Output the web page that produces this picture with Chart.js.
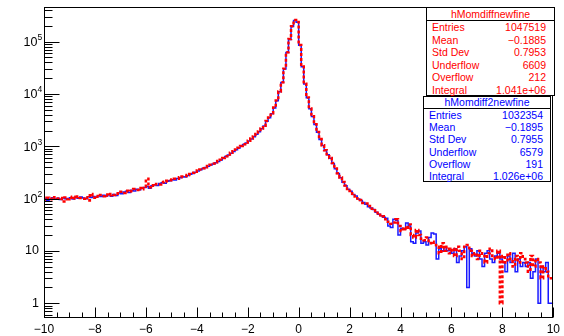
<!DOCTYPE html>
<html>
<head>
<meta charset="utf-8">
<script src="https://cdn.jsdelivr.net/npm/chart.js@4/dist/chart.umd.min.js"></script>
<style>
  html, body { margin: 0; padding: 0; background: #fff; }
  #wrap { position: relative; width: 564px; height: 336px; }
  canvas { display: block; }
  .stats { position: absolute; background: #fff; border: 1px solid #000; box-sizing: border-box;
           font-family: "Liberation Sans", Arial, sans-serif; font-size: 10.5px; }
  .stats .title { text-align: center; border-bottom: 1px solid #000; }
  .stats .row { display: flex; justify-content: space-between; }
  #statsRed { left: 426px; top: 7px; width: 129px; height: 89px; color: #ff0000; }
  #statsRed .title { height: 12px; line-height: 12px; }
  #statsRed .row { height: 12.5px; line-height: 12.5px; padding: 0 8px 0 5px; }
  #statsBlue { left: 423px; top: 96px; width: 128px; height: 86px; color: #0000ff; }
  #statsBlue .title { height: 11px; line-height: 11px; }
  #statsBlue .row { height: 12.2px; line-height: 12.2px; padding: 0 7px 0 5px; }
</style>
</head>
<body>
<div id="wrap">
  <canvas id="chart" width="564" height="336"></canvas>
  <div id="statsRed" class="stats"></div>
  <div id="statsBlue" class="stats"></div>
</div>
<script>
// histogram binning: 200 bins of 0.1 from -10 to 10
const xLow = -10;
const xHigh = 10;
const binWidth = 0.1;

// hMomdiff2newfine (blue), counts per bin
const blueCounts = [
  95, 100, 92, 98, 104, 97, 101, 96, 103, 99,
  100, 104, 98, 106, 101, 107, 103, 99, 108, 105,
  110, 106, 113, 109, 116, 112, 118, 111, 120, 115,
  128, 124, 133, 138, 131, 144, 140, 150, 147, 158,
  162, 170, 158, 176, 184, 178, 194, 200, 196, 214,
  220, 230, 226, 242, 250, 262, 258, 276, 290, 300,
  320, 337, 355, 374, 394, 415, 437, 460, 485, 511,
  545, 588, 634, 684, 738, 796, 859, 926, 1000, 1078,
  1160, 1260, 1380, 1520, 1690, 1900, 2150, 2450, 3000, 3500,
  4200, 5400, 7400, 11000, 16500, 30000, 62000, 110000, 195000, 255000,
  235000, 85000, 33000, 15500, 8500, 5200, 3700, 2600, 1850, 1350,
  1030, 830, 690, 590, 470, 370, 300, 250, 205, 175,
  150, 138, 120, 112, 98, 92, 84, 78, 70, 66,
  62, 55, 50, 47, 44, 42, 30, 28, 40, 38,
  20, 27, 26, 34, 30, 15, 14, 22, 24, 14,
  15, 13, 18, 22, 21, 7, 11, 10, 12, 10,
  10, 9, 11, 6, 8, 10, 12, 2, 11, 9,
  8, 10, 7, 5, 9, 10, 7, 6, 8, 9,
  7, 6, 4, 8, 6, 9, 4, 7, 5, 6,
  5, 6, 3, 4, 7, 1, 5, 4, 6, 1
];

// hMomdiffnewfine (red), counts per bin
const redCounts = [
  100, 96, 104, 99, 97, 106, 100, 102, 88, 105,
  97, 104, 108, 100, 110, 103, 99, 106, 92, 122,
  104, 112, 108, 117, 111, 119, 114, 122, 117, 124,
  126, 135, 128, 141, 136, 139, 152, 145, 160, 150,
  168, 240, 165, 180, 176, 190, 186, 205, 210, 218,
  225, 232, 240, 238, 255, 265, 270, 282, 295, 310,
  326, 342, 360, 380, 398, 420, 445, 468, 492, 520,
  552, 596, 642, 692, 748, 806, 868, 938, 1012, 1090,
  1175, 1275, 1400, 1540, 1710, 1920, 2180, 2480, 3040, 3550,
  4260, 5480, 7500, 11200, 16700, 30500, 63000, 112000, 198000, 259000,
  238000, 86000, 33500, 15700, 8600, 5300, 3750, 2640, 1880, 1370,
  1045, 842, 700, 598, 478, 376, 305, 254, 208, 178,
  152, 140, 124, 110, 100, 94, 82, 80, 72, 64,
  64, 58, 48, 49, 46, 40, 36, 33, 35, 40,
  30, 24, 28, 26, 32, 20, 18, 25, 20, 17,
  16, 18, 14, 15, 13, 12, 9, 14, 10, 12,
  9, 11, 8, 12, 10, 7, 12, 13, 10, 8,
  9, 7, 10, 8, 6, 9, 11, 8, 7, 10,
  1, 8, 6, 9, 7, 5, 8, 6, 9, 7,
  6, 4, 8, 5, 7, 6, 3, 5, 4, 3
];

const xTickValues = [-10, -8, -6, -4, -2, 0, 2, 4, 6, 8, 10];
const yDecades = [0, 1, 2, 3, 4, 5];

const statNames = ["Entries", "Mean", "Std Dev", "Underflow", "Overflow", "Integral"];
const redName = "hMomdiffnewfine";
const redStats = ["1047519", "\u22120.1885", "0.7953", "6609", "212", "1.041e+06"];
const blueName = "hMomdiff2newfine";
const blueStats = ["1032354", "\u22120.1895", "0.7955", "6579", "191", "1.026e+06"];

const FONT = '"Liberation Sans", Arial, sans-serif';

function histPoints(counts) {
  const pts = counts.map((v, i) => ({ x: xLow + i * binWidth, y: v }));
  pts.push({ x: xHigh, y: counts[counts.length - 1] });
  return pts;
}

function fillStats(id, name, values) {
  const box = document.getElementById(id);
  box.innerHTML =
    `<div class="title">${name}</div>` +
    statNames.map((n, i) => `<div class="row"><span>${n}</span><span>${values[i]}</span></div>`).join("");
}

// ROOT style frame, inward ticks and 10^n labels
const rootAxes = {
  id: "rootAxes",
  afterDatasetsDraw(chart) {
    const { ctx, chartArea: a, scales } = chart;
    const sx = scales.x, sy = scales.y;
    const L = Math.round(a.left) + 0.5, R = Math.round(a.right) - 0.5;
    const T = Math.round(a.top) + 0.5, B = Math.round(a.bottom) - 0.5;
    ctx.save();
    ctx.strokeStyle = "#000";
    ctx.lineWidth = 1;
    ctx.strokeRect(L, T, R - L, B - T);

    ctx.beginPath();
    for (let k = 0; k <= 40; k++) {
      const v = xLow + k * 0.5;
      const px = Math.round(sx.getPixelForValue(v)) + 0.5;
      const len = k % 4 === 0 ? 10 : 5;
      ctx.moveTo(px, B);
      ctx.lineTo(px, B - len);
    }
    for (let n = -1; n <= 5; n++) {
      for (let k = 1; k <= 9; k++) {
        const v = k * Math.pow(10, n);
        if (v < sy.min || v > sy.max) continue;
        const py = Math.round(sy.getPixelForValue(v)) + 0.5;
        const len = k === 1 ? 15 : 8;
        ctx.moveTo(L, py);
        ctx.lineTo(L + len, py);
      }
    }
    ctx.stroke();

    ctx.fillStyle = "#000";
    ctx.textBaseline = "middle";
    yDecades.forEach((d) => {
      const py = sy.getPixelForValue(Math.pow(10, d));
      if (d <= 1) {
        ctx.font = "12.5px " + FONT;
        ctx.textAlign = "right";
        ctx.fillText(d === 0 ? "1" : "10", 39, py);
      } else {
        ctx.font = "12.5px " + FONT;
        ctx.textAlign = "right";
        ctx.fillText("10", 37.5, py + 1);
        ctx.font = "8.5px " + FONT;
        ctx.textAlign = "left";
        ctx.fillText(String(d), 37.5, py - 4);
      }
    });
    ctx.restore();
  },
};

fillStats("statsRed", redName, redStats);
fillStats("statsBlue", blueName, blueStats);

new Chart(document.getElementById("chart").getContext("2d"), {
  type: "line",
  data: {
    datasets: [
      {
        label: redName,
        data: histPoints(redCounts),
        stepped: "after",
        borderColor: "#ff0000",
        borderWidth: 2.5,
        borderDash: [3, 2],
        pointRadius: 0,
        fill: false,
        order: 0,
      },
      {
        label: blueName,
        data: histPoints(blueCounts),
        stepped: "after",
        borderColor: "#1a1aff",
        borderWidth: 1.5,
        pointRadius: 0,
        fill: false,
        order: 1,
      },
    ],
  },
  options: {
    responsive: false,
    animation: false,
    layout: { padding: { top: 7, right: 9, left: 0, bottom: 0 } },
    plugins: { legend: { display: false }, tooltip: { enabled: false } },
    scales: {
      x: {
        type: "linear",
        min: xLow,
        max: xHigh,
        grid: { display: false, drawTicks: false },
        border: { display: false },
        ticks: {
          autoSkip: false,
          maxRotation: 0,
          padding: 4,
          color: "#000",
          font: { family: FONT, size: 12 },
          callback: (v) => (v < 0 ? "\u2212" + Math.abs(v) : String(v)),
        },
        afterBuildTicks: (s) => {
          s.ticks = xTickValues.map((v) => ({ value: v }));
        },
        afterFit: (s) => {
          s.height = 18;
        },
      },
      y: {
        type: "logarithmic",
        min: 0.52,
        max: 4.6e5,
        grid: { display: false, drawTicks: false },
        border: { display: false },
        ticks: { display: false },
        afterFit: (s) => {
          s.width = 44;
        },
      },
    },
  },
  plugins: [rootAxes],
});
</script>
</body>
</html>
